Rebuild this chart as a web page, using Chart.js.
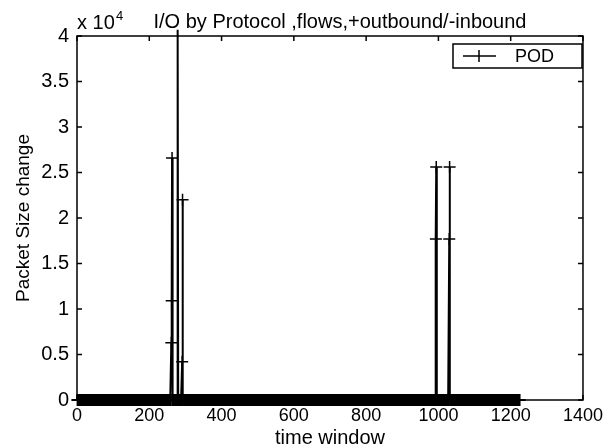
<!DOCTYPE html>
<html>
<head>
<meta charset="utf-8">
<script src="https://cdn.jsdelivr.net/npm/chart.js@4.4.0/dist/chart.umd.min.js"></script>
<style>
  html, body { margin: 0; padding: 0; background: #fff; }
  #wrap { width: 608px; height: 448px; position: relative; }
</style>
</head>
<body>
<div id="wrap"><canvas id="c" width="608" height="448"></canvas></div>
<script>
// samples from t = 1 .. 1225 sit at zero except for the spikes below
const baselineStart = 1;
const baselineEnd = 1225;
const spikeTimes  = [261, 262, 263, 279, 291, 292, 993, 994, 1030, 1031];
const spikeValues = [6300, 10900, 26600, 40700, 4200, 22000, 17700, 25600, 17700, 25600];

const xTicks = [0, 200, 400, 600, 800, 1000, 1200, 1400];
const yTicks = [0, 5000, 10000, 15000, 20000, 25000, 30000, 35000, 40000];
const yTickLabels = ['0', '0.5', '1', '1.5', '2', '2.5', '3', '3.5', '4'];

const seriesName = 'POD';
const titleText = 'I/O by Protocol ,flows,+outbound/-inbound';
const FONT = '"Liberation Sans", Arial, sans-serif';
const FS = 20;   // titles
const TS = 18;   // tick labels

const points = [];
for (let t = baselineStart; t <= baselineEnd; t++) {
    const i = spikeTimes.indexOf(t);
    points.push({ x: t, y: i >= 0 ? spikeValues[i] : 0 });
}

// box, inward ticks, exponent, title and legend, matlab style
const matlabDecor = {
    id: 'matlabDecor',
    afterDraw(chart) {
        const ctx = chart.ctx;
        const a = chart.chartArea;
        const xs = chart.scales.x, ys = chart.scales.y;
        ctx.save();
        ctx.strokeStyle = '#000';
        ctx.lineWidth = 1.5;
        ctx.strokeRect(a.left, a.top, a.right - a.left, a.bottom - a.top);

        ctx.beginPath();
        xTicks.forEach(v => {
            const px = xs.getPixelForValue(v);
            ctx.moveTo(px, a.bottom); ctx.lineTo(px, a.bottom - 5);
            ctx.moveTo(px, a.top); ctx.lineTo(px, a.top + 5);
        });
        yTicks.forEach(v => {
            const py = ys.getPixelForValue(v);
            ctx.moveTo(a.left, py); ctx.lineTo(a.left + 5, py);
            ctx.moveTo(a.right, py); ctx.lineTo(a.right - 5, py);
        });
        ctx.stroke();

        ctx.fillStyle = '#000';
        ctx.textBaseline = 'alphabetic';
        ctx.textAlign = 'left';
        ctx.font = FS + 'px ' + FONT;
        ctx.fillText('x 10', a.left, 29);
        ctx.font = '13px ' + FONT;
        ctx.fillText('4', a.left + 39, 20);

        ctx.font = FS + 'px ' + FONT;
        ctx.textAlign = 'center';
        ctx.fillText(titleText, (a.left + a.right) / 2 + 10, 28);

        // legend
        const lx = 453, ly = 44, lw = 129, lh = 24;
        ctx.fillStyle = '#fff';
        ctx.fillRect(lx, ly, lw, lh);
        ctx.strokeStyle = '#000';
        ctx.lineWidth = 1.5;
        ctx.strokeRect(lx, ly, lw, lh);
        const cy = ly + lh / 2;
        ctx.beginPath();
        ctx.moveTo(lx + 10, cy); ctx.lineTo(lx + 43, cy);
        ctx.moveTo(lx + 26, cy - 6); ctx.lineTo(lx + 26, cy + 6);
        ctx.stroke();
        ctx.fillStyle = '#000';
        ctx.textAlign = 'left';
        ctx.textBaseline = 'middle';
        ctx.font = '18px ' + FONT;
        ctx.fillText(seriesName, lx + 62, cy + 1);
        ctx.restore();
    }
};

new Chart(document.getElementById('c'), {
    type: 'scatter',
    data: {
        datasets: [{
            label: seriesName,
            data: points,
            showLine: true,
            borderColor: '#000',
            backgroundColor: '#000',
            borderWidth: 2,
            pointStyle: 'cross',
            // markers above the axes are clipped away, only the line pokes out
            pointRadius: c => (c.raw && c.raw.y > 40000 ? 0 : 6),
            pointBorderWidth: 1.5,
            pointHoverRadius: 6,
            clip: false
        }]
    },
    options: {
        responsive: false,
        animation: false,
        events: [],
        layout: { padding: { top: 36, right: 23, left: 0, bottom: 0 } },
        scales: {
            x: {
                type: 'linear',
                min: 0, max: 1400,
                afterBuildTicks: s => { s.ticks = xTicks.map(v => ({ value: v })); },
                afterFit: s => { s.height = 48; },
                grid: { display: false, drawTicks: false },
                border: { display: false },
                ticks: { color: '#000', font: { family: FONT, size: TS }, padding: 5, maxRotation: 0, callback: v => String(v) },
                title: { display: true, text: 'time window', color: '#000', font: { family: FONT, size: FS, lineHeight: 1.0 }, padding: { top: 0, bottom: 0 } }
            },
            y: {
                min: 0, max: 40000,
                afterBuildTicks: s => { s.ticks = yTicks.map(v => ({ value: v })); },
                afterFit: s => { s.width = 77; },
                grid: { display: false, drawTicks: false },
                border: { display: false },
                ticks: {
                    color: '#000', font: { family: FONT, size: FS }, padding: 8,
                    callback: v => yTickLabels[yTicks.indexOf(v)]
                },
                title: { display: true, text: 'Packet Size change', color: '#000', font: { family: FONT, size: FS - 1 }, padding: { bottom: 0, top: 12 } }
            }
        },
        plugins: {
            legend: { display: false },
            tooltip: { enabled: false },
            title: { display: false }
        }
    },
    plugins: [matlabDecor]
});
</script>
</body>
</html>
